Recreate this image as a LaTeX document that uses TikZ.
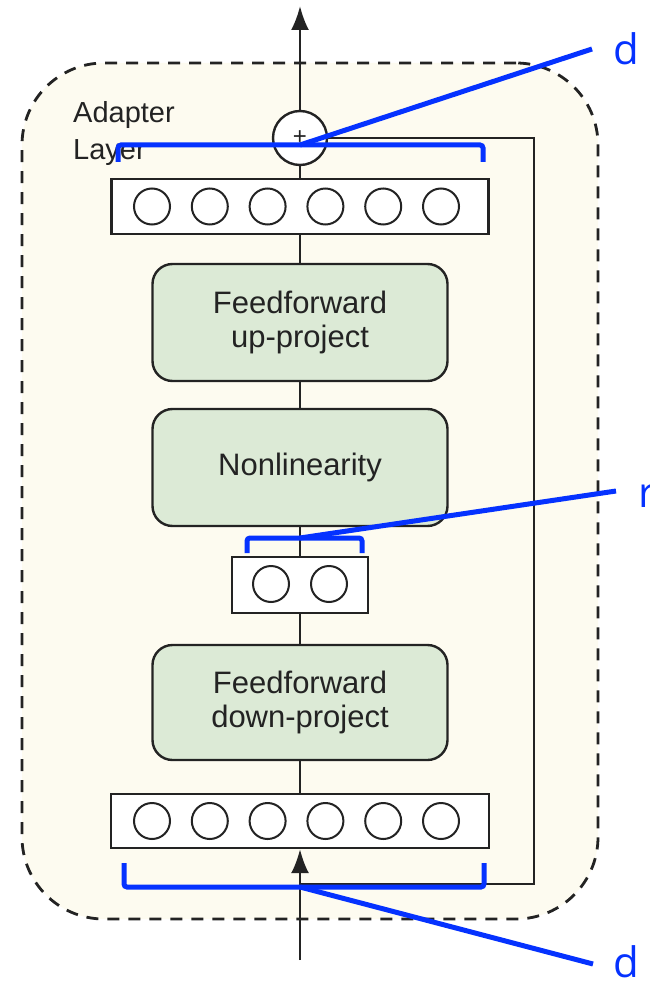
\documentclass[tikz,border=0pt]{standalone}
\usepackage{fontspec}
\setmainfont{Liberation Sans}
\newfontfamily\labelfont{Open Sans}
\usepackage{xcolor}
\usepackage{tikz}
\usetikzlibrary{arrows.meta}

\definecolor{cream}{RGB}{253,251,240}
\definecolor{boxgreen}{RGB}{220,234,214}
\definecolor{markblue}{RGB}{5,50,255}
\definecolor{ink}{RGB}{35,35,35}

\begin{document}
\begin{tikzpicture}[x=1pt,y=-1pt]
				\tikzstyle{layer}=[draw=ink, line width=2.4pt, fill=boxgreen, rounded corners=20pt, minimum width=295pt, minimum height=117pt, align=center, text=ink, font=\fontsize{31}{34}\selectfont]
				\tikzstyle{vector}=[draw=ink, line width=2.4pt, fill=white, minimum height=55pt, inner sep=0pt]
				\tikzstyle{unit}=[circle, draw=ink, line width=2pt, minimum size=36pt, inner sep=0pt]
				\tikzstyle{dim}=[text=markblue, font=\labelfont\fontsize{42}{42}\selectfont, anchor=base west, inner sep=0pt]
				\tikzset{edge/.style = {-{Latex[length=24pt,width=18pt]}, line width=2.4pt, draw=ink}}
				\tikzset{link/.style = {line width=2.4pt, draw=ink}}
				\tikzset{brace/.style = {draw=markblue, line width=5pt, rounded corners=3pt}}
				\tikzset{lead/.style = {draw=markblue, line width=5pt}}
				
				\useasboundingbox (0,0) rectangle (649,981);
				
				% adapter frame
				\node[draw=ink, dash pattern=on 12pt off 9pt, line width=2.8pt, fill=cream, rounded corners=82pt, minimum width=576pt, minimum height=856pt](frame) at (310,491) {};
				\node[anchor=base west, align=left, text=ink, font=\fontsize{29}{37}\selectfont, inner sep=0pt](title) at (73,160) {Adapter\\Layer};
				
				% layers
				\node[vector, minimum width=377pt](hout) at (300,206.5) {};
				\node[layer](up) at (300,322.5) {Feedforward\\up-project};
				\node[layer](act) at (300,467.5) {Nonlinearity};
				\node[vector, minimum width=136pt, minimum height=56pt](hmid) at (300,585) {};
				\node[layer, minimum height=115pt](down) at (300,702.5) {Feedforward\\down-project};
				\node[vector, minimum width=378pt, minimum height=54pt](hin) at (300,821) {};
				\node[circle, draw=ink, line width=2.4pt, fill=white, minimum size=54pt, inner sep=0pt, text=ink, font=\fontsize{24}{24}\selectfont](sum) at (300,138) {+};
				
				% units
				\foreach \i in {0,...,5} {
					\node[unit](o\i) at (152+57.8*\i,206.5) {};
					\node[unit](n\i) at (152+57.8*\i,821) {};
				}
				\node[unit](m0) at (271,584) {};
				\node[unit](m1) at (329,584) {};
				
				% connections
				\coordinate (out) at (300,6);
				\coordinate (in) at (300,960);
				\coordinate (split) at (300,884);
				\coordinate (turn) at (534,884);
				\draw[edge] (sum) -- (out);
				\draw[link] (hout) -- (sum);
				\draw[link] (up) -- (hout);
				\draw[link] (act) -- (up);
				\draw[link] (hmid) -- (act);
				\draw[link] (down) -- (hmid);
				\draw[link] (hin) -- (down);
				\draw[edge] (in) -- (hin);
				\draw[link] (split) -- (turn) |- (sum);
				
				% dimension marks
				\node[dim](dtop) at (613,65) {d};
				\node[dim](rmid) at (638,507) {r};
				\node[dim](dbot) at (613,977) {d};
				\coordinate (dtopend) at (592,49);
				\coordinate (rmidend) at (616,491);
				\coordinate (dbotend) at (593,964);
				\draw[brace] (118,162) -- (118,145) -- (483,145) -- (483,162);
				\draw[brace] (247,553) -- (247,538) -- (362,538) -- (362,553);
				\draw[brace] (124,863) -- (124,887) -- (484,887) -- (484,863);
				\draw[lead] (300,145) -- (dtopend);
				\draw[lead] (300,538) -- (rmidend);
				\draw[lead] (300,887) -- (dbotend);
			\end{tikzpicture}
\end{document}
